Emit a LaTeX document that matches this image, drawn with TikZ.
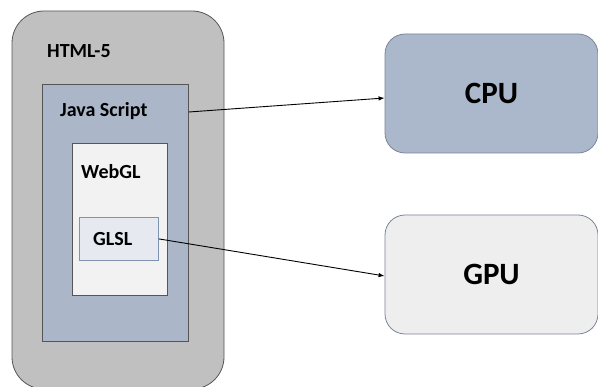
\documentclass[tikz,border=0pt]{standalone}
\usepackage{fontspec}
\setmainfont{Carlito}
\usetikzlibrary{arrows.meta}
\definecolor{htmlgray}{HTML}{C0C0C0}
\definecolor{jsblue}{HTML}{ABB7C9}
\definecolor{webglfill}{HTML}{F2F2F2}
\definecolor{glslfill}{HTML}{E6EAF0}
\definecolor{glslline}{HTML}{7F93AE}
\definecolor{edgegray}{HTML}{555555}
\definecolor{cpufill}{HTML}{ABB8CB}
\definecolor{gpufill}{HTML}{EEEEEE}
\definecolor{unitline}{HTML}{7A8596}
\tikzset{
  layer/.style={draw=edgegray, line width=0.8pt, inner sep=0pt},
  tag/.style={anchor=west, inner sep=0pt, font=\bfseries\fontsize{20}{22}\selectfont},
  unit/.style={draw=unitline, line width=0.8pt, rounded corners=20pt, minimum width=213pt, minimum height=119pt, font=\bfseries\fontsize{31}{34}\selectfont},
  link/.style={-{Latex[length=6pt,width=4.5pt]}, line width=0.9pt, black}
}
\begin{document}
\begin{tikzpicture}[x=1pt,y=-1pt]
\useasboundingbox (0,0) rectangle (598,387);
\begin{scope}
\clip (0,0) rectangle (598,387);
% nested software layers
\draw[layer, fill=htmlgray, rounded corners=32pt] (12,11) rectangle (224,389);
\end{scope}
\node[tag] (html) at (47,51) {HTML-5};
\node[layer, fill=jsblue, minimum width=146pt, minimum height=257pt, anchor=north west] (js) at (42,84) {};
\node[tag] (jslab) at (60,111) {Java Script};
\node[layer, fill=webglfill, minimum width=95pt, minimum height=152pt, anchor=north west] (webgl) at (72,143) {};
\node[tag] (webgllab) at (81,172) {WebGL};
\node[draw=glslline, line width=0.8pt, fill=glslfill, minimum width=79pt, minimum height=43pt, anchor=north west] (glsl) at (79,217) {};
\node[tag] (glsllab) at (93,239) {GLSL};
% hardware units
\node[unit, fill=cpufill] (cpu) at (491.5,93.5) {CPU};
\node[unit, fill=gpufill] (gpu) at (491.5,274.5) {GPU};
% connections
\draw[link] (js.east |- 0,112) -- (cpu.west |- 0,98);
\draw[link] (glsl.east) -- (gpu.west |- 0,276);
\end{tikzpicture}
\end{document}
